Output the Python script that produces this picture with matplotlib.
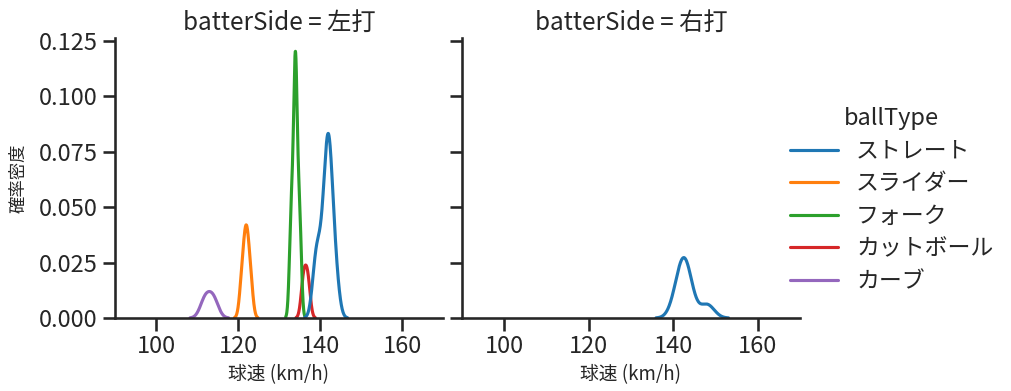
import matplotlib
matplotlib.use("Agg")
import matplotlib.pyplot as plt
import seaborn as sns
import pandas as pd
from matplotlib.lines import Line2D

# ---- data (pitch speeds, km/h) ----
ball_types = ["ストレート", "スライダー", "フォーク", "カットボール", "カーブ"]
sides = ["左打", "右打"]

left_straight = [139, 139, 140, 141, 141, 142, 142, 142, 142, 142, 143, 143, 144]
left_slider = [121, 122, 122, 123]
left_fork = [133, 133, 134, 134, 134, 134, 134, 135, 135]
left_cutter = [136, 137]
left_curve = [112, 114]

right_straight = [141, 142, 143, 143, 143, 148]
right_slider = [122]
right_fork = [134]
right_cutter = []
right_curve = [113]

xticks = [100, 120, 140, 160]
yticks = [0.0, 0.025, 0.05, 0.075, 0.1, 0.125]

rows = []
for side, groups in [("左打", [left_straight, left_slider, left_fork, left_cutter, left_curve]),
                     ("右打", [right_straight, right_slider, right_fork, right_cutter, right_curve])]:
    for bt, vals in zip(ball_types, groups):
        for v in vals:
            rows.append({"球速": v, "ballType": bt, "batterSide": side})
df = pd.DataFrame(rows)

sns.set_theme(style="ticks", context="talk")
plt.rcParams["font.family"] = ["Noto Sans CJK JP", "DejaVu Sans"]

palette = dict(zip(ball_types, plt.get_cmap("tab10").colors[:5]))

g = sns.displot(data=df, x="球速", hue="ballType", col="batterSide", kind="kde",
                hue_order=ball_types, col_order=sides, palette=palette,
                legend=False, warn_singular=False, height=3.5, aspect=1.2)
fig = g.figure
fig.set_size_inches(10.12, 3.91)
fig.set_dpi(100)

ax1, ax2 = g.axes[0]
ax1.set_position([115 / 1012, 1 - 318 / 391, 328 / 1012, 280 / 391])
ax2.set_position([462 / 1012, 1 - 318 / 391, 338 / 1012, 280 / 391])

g.set_titles("batterSide = {col_name}", size=17.5)
for ax in (ax1, ax2):
    ax.set_xlim(90, 170)
    ax.set_xticks(xticks)
    ax.set_yticks(yticks)
    ax.tick_params(labelsize=17)
    ax.set_xlabel("球速 (km/h)", fontsize=13.5)
ax1.set_yticklabels([f"{t:.3f}" for t in yticks])
ax1.set_ylabel("確率密度", fontsize=12.5, labelpad=8)
ax2.set_ylabel("")

handles = [Line2D([0], [0], color=palette[bt], lw=2.25) for bt in ball_types]
fig.legend(handles, ball_types, title="ballType", loc="center left",
           bbox_to_anchor=(769 / 1012, 1 - 200 / 391), frameon=False,
           fontsize=16.5, title_fontsize=17, handlelength=2.1,
           labelspacing=0.42)

fig.savefig("out.png", dpi=100)
